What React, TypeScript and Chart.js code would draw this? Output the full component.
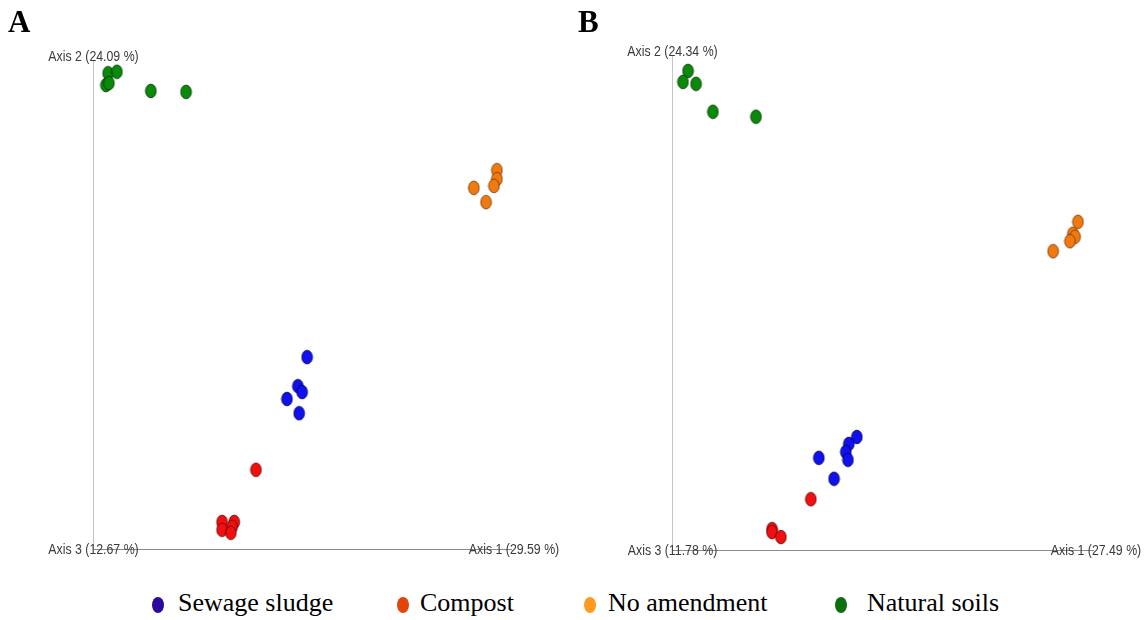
import React, { useEffect, useRef } from "react";
import { Chart, registerables } from "chart.js";

Chart.register(...registerables);

// Panel A ordination coordinates (percent of each drawn axis length)
const aSewageX = [51.1, 48.9, 49.9, 46.3, 49.2];
const aSewageY = [39.0, 33.1, 31.9, 30.5, 27.6];
const aCompostX = [38.9, 30.8, 30.8, 33.7, 33.2, 32.9];
const aCompostY = [16.1, 5.5, 3.9, 5.5, 4.5, 3.3];
const aNoAmendX = [96.4, 96.4, 95.7, 90.9, 93.8];
const aNoAmendY = [77.0, 75.2, 73.8, 73.4, 70.5];
const aNaturalX = [3.6, 5.7, 3.1, 3.8, 13.8, 22.2];
const aNaturalY = [96.7, 97.0, 94.3, 94.7, 93.1, 92.9];

// Panel B ordination coordinates
const bSewageX = [43.8, 41.9, 41.2, 41.7, 34.8, 38.4];
const bSewageY = [22.7, 21.3, 19.7, 18.1, 18.5, 14.3];
const bCompostX = [32.9, 23.7, 23.7, 25.8];
const bCompostY = [10.2, 4.2, 3.6, 2.6];
const bNoAmendX = [96.2, 95.0, 95.5, 94.3, 90.3];
const bNoAmendY = [65.9, 63.5, 62.9, 62.0, 60.0];
const bNaturalX = [3.8, 2.6, 5.7, 9.7, 19.9];
const bNaturalY = [96.2, 94.0, 93.6, 88.0, 87.0];

const axisLabelsA = ["Axis 1 (29.59 %)", "Axis 2 (24.09 %)", "Axis 3 (12.67 %)"];
const axisLabelsB = ["Axis 1 (27.49 %)", "Axis 2 (24.34 %)", "Axis 3 (11.78 %)"];

const legendLabels = ["Sewage sludge", "Compost", "No amendment", "Natural soils"];
const legendColors = ["#2b0a9b", "#e2440a", "#ff9a1e", "#0d6e0d"];

const markerFill = ["#1010f0", "#f01010", "#f07a10", "#0a8a0a"];
const markerEdge = ["#00005a", "#700000", "#803800", "#003800"];

function makeMarker(fill: string, edge: string): HTMLCanvasElement {
  const c = document.createElement("canvas");
  const w = 13, h = 16;
  c.width = w;
  c.height = h;
  const ctx = c.getContext("2d")!;
  ctx.beginPath();
  ctx.ellipse(w / 2, h / 2, 5.3, 6.8, 0, 0, Math.PI * 2);
  ctx.fillStyle = fill;
  ctx.fill();
  ctx.lineWidth = 0.9;
  ctx.strokeStyle = edge;
  ctx.stroke();
  return c;
}

function zip(xs: number[], ys: number[]) {
  return xs.map((x, i) => ({ x, y: ys[i] }));
}

function drawNarrow(ctx: CanvasRenderingContext2D, text: string, cx: number, cy: number) {
  const sx = 0.88;
  ctx.save();
  ctx.translate(cx, cy);
  ctx.scale(sx, 1);
  ctx.fillText(text, 0, 0);
  ctx.restore();
}

function axesPlugin(labels: string[]) {
  return {
    id: "pcoaAxes",
    beforeDatasetsDraw(chart: any) {
      const { ctx } = chart;
      const xs = chart.scales.x;
      const ys = chart.scales.y;
      const ox = Math.round(xs.getPixelForValue(0)) + 0.5;
      const oy = Math.round(ys.getPixelForValue(0)) + 0.5;
      const ex = xs.getPixelForValue(100);
      const ey = ys.getPixelForValue(100);
      ctx.save();
      ctx.lineWidth = 1;
      ctx.strokeStyle = "#c4c4c4";
      ctx.beginPath();
      ctx.moveTo(ox, ey + 4);
      ctx.lineTo(ox, oy);
      ctx.stroke();
      ctx.strokeStyle = "#8a8a8a";
      ctx.beginPath();
      ctx.moveTo(ox, oy);
      ctx.lineTo(ex, oy);
      ctx.stroke();
      ctx.fillStyle = "#3a3a3a";
      ctx.font = '14px "Liberation Sans", Arial, sans-serif';
      ctx.textAlign = "center";
      ctx.textBaseline = "middle";
      drawNarrow(ctx, labels[0], ex + 2, oy + 1);
      drawNarrow(ctx, labels[1], ox, ey);
      drawNarrow(ctx, labels[2], ox, oy + 1);
      ctx.restore();
    },
  };
}

function Panel(props: {
  left: number;
  pad: { left: number; right: number; top: number; bottom: number };
  groups: { x: number[]; y: number[] }[];
  labels: string[];
}) {
  const ref = useRef<HTMLCanvasElement | null>(null);
  useEffect(() => {
    if (!ref.current) return;
    const datasets = props.groups.map((g, i) => ({
      label: legendLabels[i],
      data: zip(g.x, g.y),
      pointStyle: makeMarker(markerFill[i], markerEdge[i]) as any,
      pointRadius: 6,
      clip: false as any,
    }));
    const chart = new Chart(ref.current, {
      type: "scatter",
      data: { datasets },
      options: {
        animation: false,
        responsive: false,
        maintainAspectRatio: false,
        layout: { padding: props.pad },
        plugins: { legend: { display: false }, tooltip: { enabled: false } },
        scales: {
          x: { type: "linear", display: false, min: 0, max: 100 },
          y: { type: "linear", display: false, min: 0, max: 100 },
        },
      },
      plugins: [axesPlugin(props.labels)],
    });
    return () => chart.destroy();
  }, []);
  return (
    <canvas
      ref={ref}
      width={573}
      height={580}
      style={{ position: "absolute", left: props.left, top: 0, width: 573, height: 580 }}
    />
  );
}

const legendDotX = [158, 403, 590, 841];
const legendTextX = [178, 420, 608, 867];

export default function App() {
  const serif = '"Liberation Serif", "Times New Roman", serif';
  return (
    <div
      style={{
        position: "fixed",
        left: 0,
        top: 0,
        width: 1146,
        height: 620,
        background: "#ffffff",
        overflow: "hidden",
      }}
    >
      <Panel
        left={0}
        pad={{ left: 93, right: 61, top: 57, bottom: 31 }}
        groups={[
          { x: aSewageX, y: aSewageY },
          { x: aCompostX, y: aCompostY },
          { x: aNoAmendX, y: aNoAmendY },
          { x: aNaturalX, y: aNaturalY },
        ]}
        labels={axisLabelsA}
      />
      <Panel
        left={573}
        pad={{ left: 99, right: 52, top: 52, bottom: 30 }}
        groups={[
          { x: bSewageX, y: bSewageY },
          { x: bCompostX, y: bCompostY },
          { x: bNoAmendX, y: bNoAmendY },
          { x: bNaturalX, y: bNaturalY },
        ]}
        labels={axisLabelsB}
      />
      <div style={{ position: "absolute", left: 8, top: 6, font: `bold 31px ${serif}`, lineHeight: "31px" }}>A</div>
      <div style={{ position: "absolute", left: 578, top: 6, font: `bold 31px ${serif}`, lineHeight: "31px" }}>B</div>
      {legendLabels.map((lab, i) => (
        <React.Fragment key={lab}>
          <div
            style={{
              position: "absolute",
              left: legendDotX[i] - 6,
              top: 597,
              width: 12,
              height: 16,
              borderRadius: "50%",
              background: legendColors[i],
            }}
          />
          <div
            style={{
              position: "absolute",
              left: legendTextX[i],
              top: 590,
              font: `26px ${serif}`,
              lineHeight: "26px",
              whiteSpace: "nowrap",
              color: "#000",
            }}
          >
            {lab}
          </div>
        </React.Fragment>
      ))}
    </div>
  );
}
